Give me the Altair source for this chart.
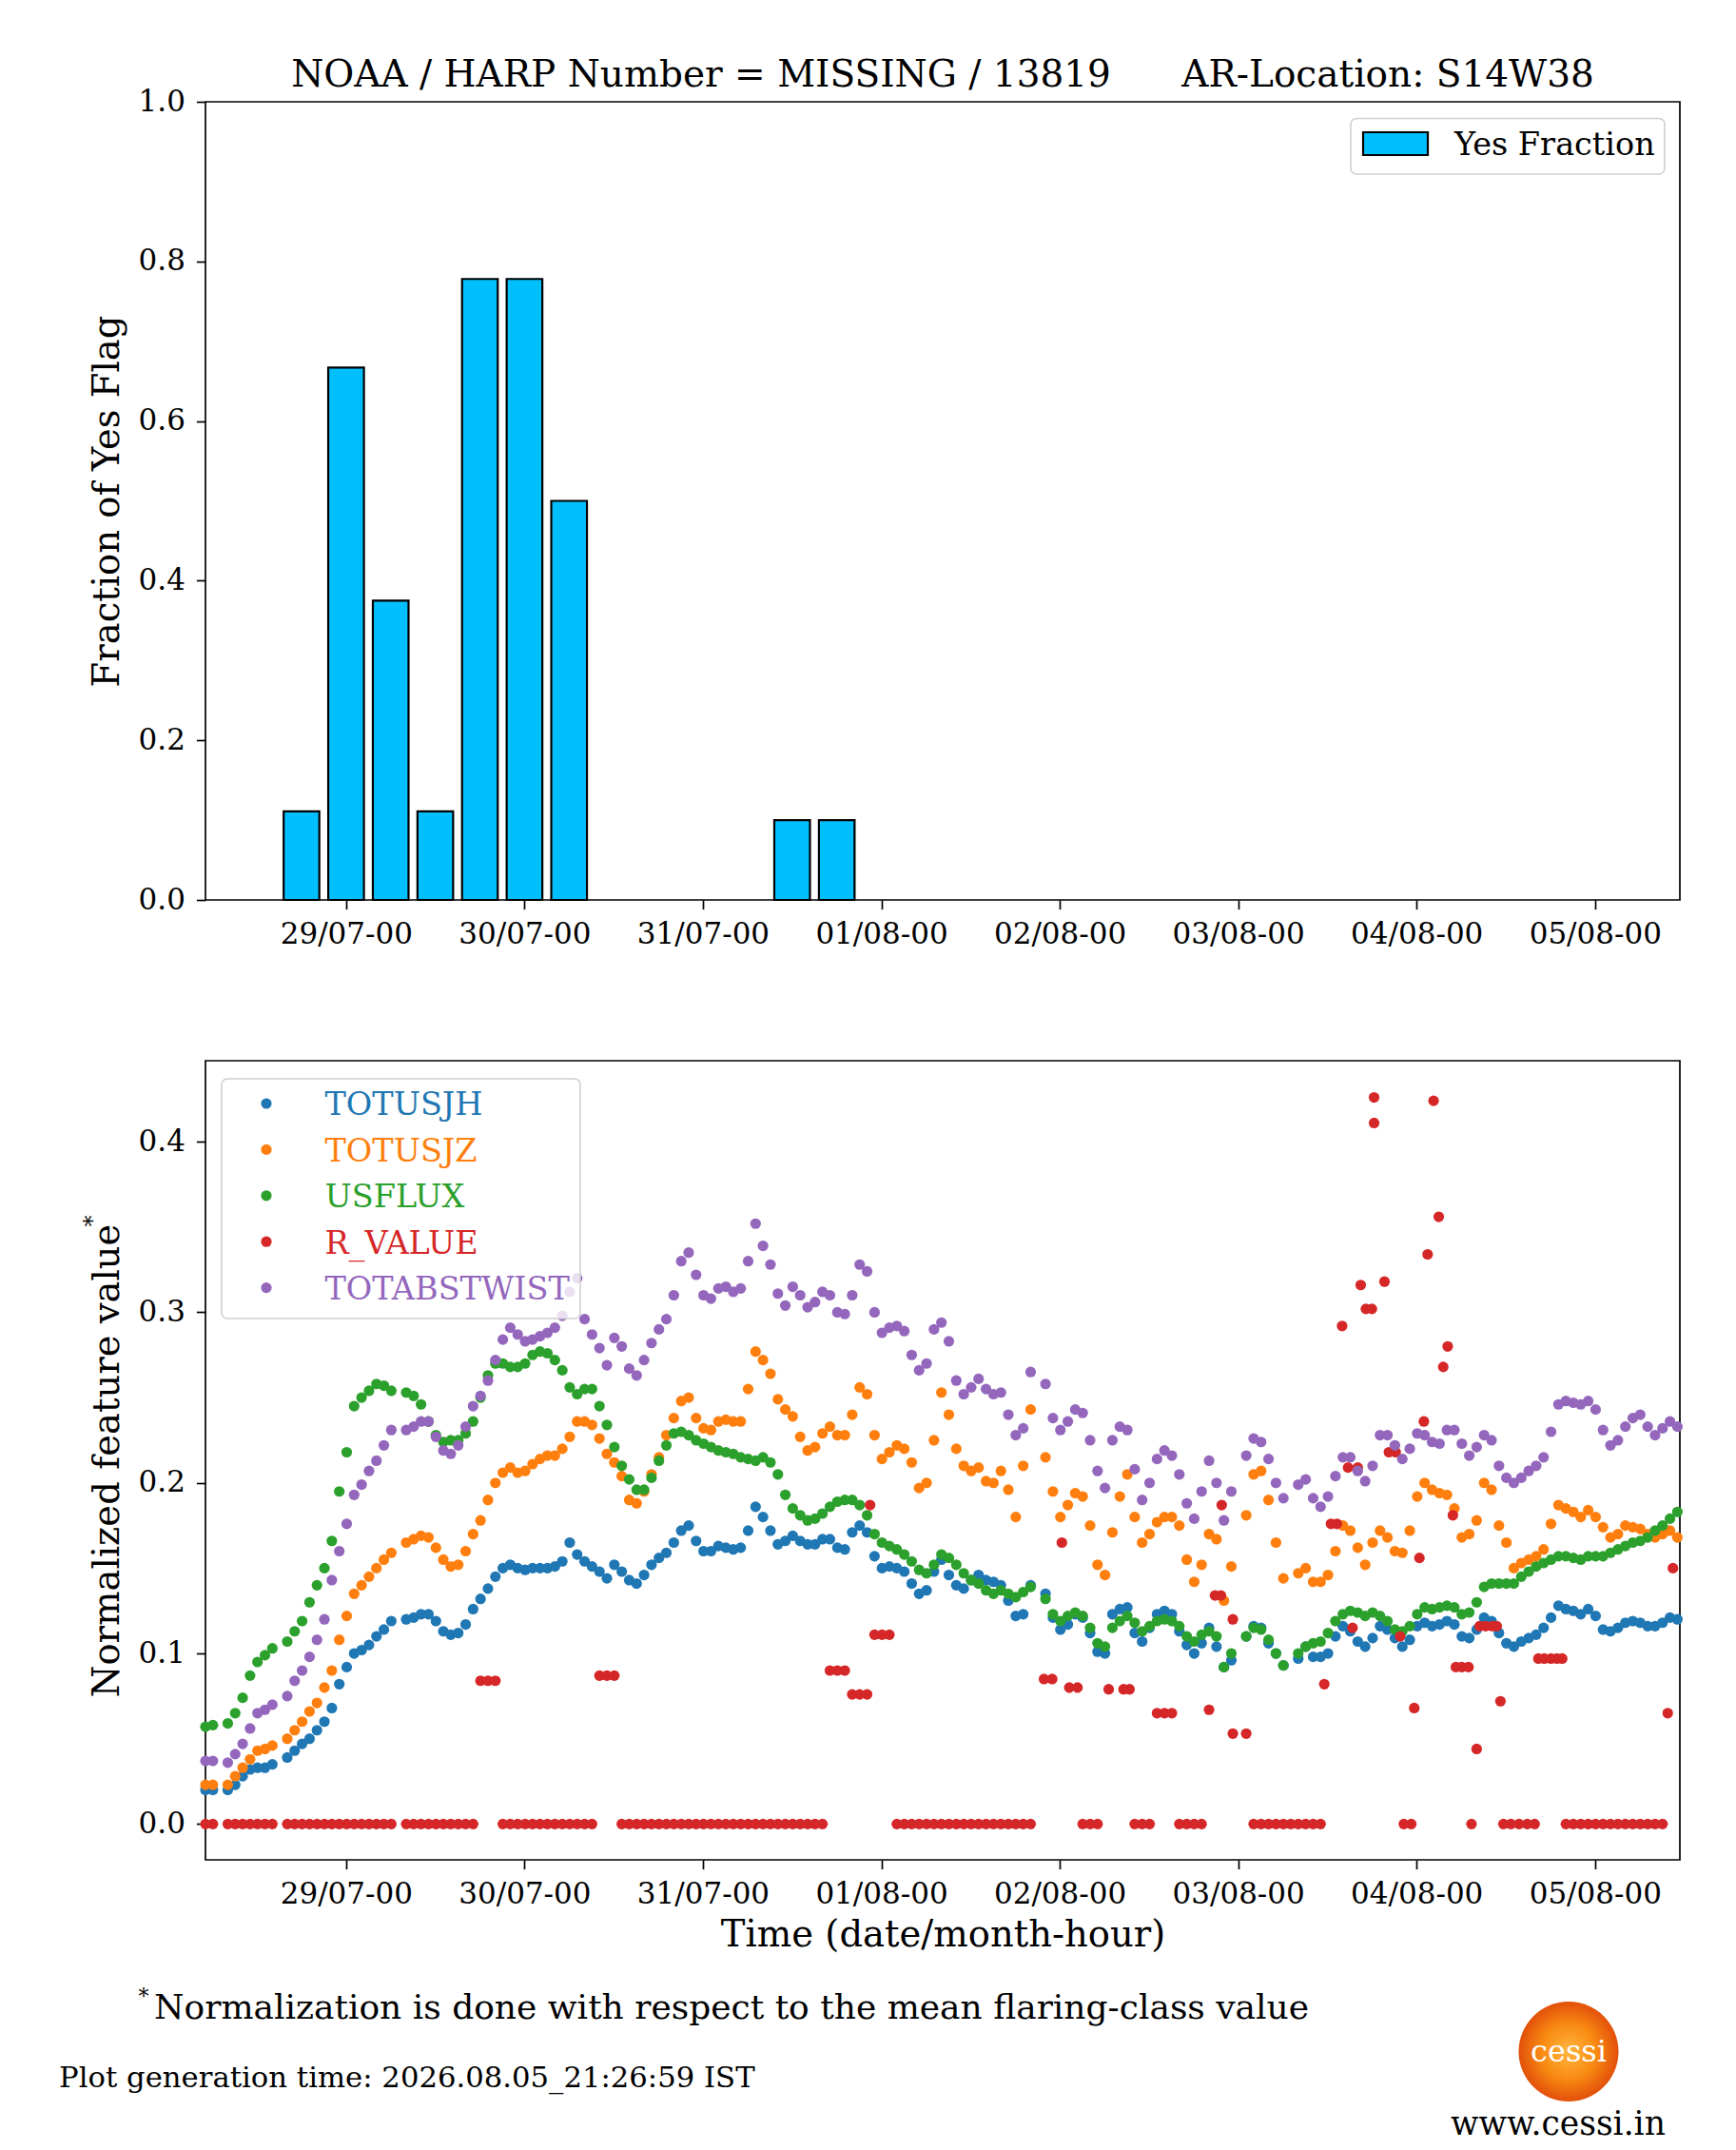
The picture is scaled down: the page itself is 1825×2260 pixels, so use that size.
import altair as alt
import pandas as pd

SERIF = "DejaVu Serif"

START = pd.Timestamp("2024-07-28 05:05")
END = pd.Timestamp("2024-08-05 11:25")
TICK_DAYS = ["2024-07-29", "2024-07-30", "2024-07-31", "2024-08-01",
             "2024-08-02", "2024-08-03", "2024-08-04", "2024-08-05"]

TITLE = "NOAA / HARP Number = MISSING / 13819" + "\u00a0" * 6 + "AR-Location: S14W38"

# top panel: fraction of "yes" flags in 6-hour bins
BAR_TIMES = ["2024-07-28 18:00", "2024-07-29 00:00", "2024-07-29 06:00",
             "2024-07-29 12:00", "2024-07-29 18:00", "2024-07-30 00:00",
             "2024-07-30 06:00", "2024-07-31 12:00", "2024-07-31 18:00"]
YES_FRACTION = [0.111, 0.667, 0.375, 0.111, 0.778, 0.778, 0.5, 0.1, 0.1]

# bottom panel: hourly samples counted from START (None = no record)
TOTUSJH = [
    0.020, 0.020, None, 0.020, 0.023, 0.028, 0.032, 0.033, 0.033, 0.035,
    None, 0.039, 0.043, 0.047, 0.050, 0.055, 0.060, 0.068, 0.082, 0.092,
    0.100, 0.102, 0.105, 0.110, 0.114, 0.119, None, 0.120, 0.121, 0.123,
    0.123, 0.119, 0.113, 0.111, 0.112, 0.117, 0.126, 0.132, 0.138, 0.145,
    0.150, 0.152, 0.150, 0.149, 0.150, 0.150, 0.150, 0.151, 0.154, 0.165,
    0.158, 0.154, 0.151, 0.148, 0.144, 0.152, 0.148, 0.143, 0.141, 0.146,
    0.152, 0.156, 0.159, 0.165, 0.172, 0.175, 0.166, 0.160, 0.160, 0.163,
    0.162, 0.161, 0.162, 0.172, 0.186, 0.180, 0.172, 0.164, 0.166, 0.169,
    0.166, 0.164, 0.164, 0.167, 0.167, 0.162, 0.161, 0.171, 0.175, 0.171,
    0.157, 0.150, 0.151, 0.150, 0.148, 0.141, 0.135, 0.137, 0.148, 0.155,
    0.146, 0.140, 0.138, 0.143, 0.146, 0.143, 0.142, 0.140, 0.131, 0.122,
    0.123, 0.140, None, 0.135, 0.121, 0.114, 0.117, 0.123, 0.121, 0.112,
    0.101, 0.100, 0.123, 0.126, 0.127, 0.112, 0.107, 0.115, 0.123, 0.125,
    0.123, 0.113, 0.105, 0.100, 0.106, 0.115, 0.104, 0.092, 0.096, None,
    0.110, 0.116, 0.115, 0.106, 0.100, 0.093, None, 0.097, 0.104, 0.098,
    0.098, 0.100, 0.110, 0.116, 0.113, 0.107, 0.104, 0.109, 0.116, 0.114,
    0.109, 0.104, 0.108, 0.116, 0.118, 0.116, 0.117, 0.119, 0.117, 0.110,
    0.109, 0.114, 0.121, 0.119, 0.112, 0.106, 0.104, 0.107, 0.109, 0.111,
    0.115, 0.121, 0.128, 0.126, 0.125, 0.123, 0.126, 0.122, 0.114, 0.113,
    0.115, 0.118, 0.119, 0.118, 0.116, 0.116, 0.118, 0.121, 0.120,
]
TOTUSJZ = [
    0.023, 0.023, None, 0.023, 0.028, 0.033, 0.038, 0.043, 0.044, 0.046,
    None, 0.050, 0.055, 0.060, 0.066, 0.071, 0.080, 0.090, 0.108, 0.122,
    0.135, 0.140, 0.145, 0.150, 0.155, 0.159, None, 0.165, 0.167, 0.169,
    0.168, 0.162, 0.155, 0.151, 0.152, 0.160, 0.170, 0.178, 0.190, 0.200,
    0.206, 0.209, 0.206, 0.207, 0.211, 0.214, 0.216, 0.216, 0.220, 0.227,
    0.236, 0.236, 0.234, 0.226, 0.217, 0.212, 0.204, 0.190, 0.188, 0.195,
    0.205, 0.215, 0.228, 0.238, 0.248, 0.250, 0.238, 0.232, 0.231, 0.236,
    0.237, 0.236, 0.236, 0.255, 0.277, 0.272, 0.264, 0.249, 0.243, 0.239,
    0.227, 0.219, 0.221, 0.229, 0.233, 0.228, 0.228, 0.240, 0.256, 0.252,
    0.228, 0.214, 0.218, 0.222, 0.220, 0.212, 0.197, 0.200, 0.225, 0.253,
    0.240, 0.220, 0.210, 0.207, 0.209, 0.201, 0.200, 0.207, 0.196, 0.180,
    0.210, 0.243, None, 0.215, 0.195, 0.180, 0.187, 0.194, 0.192, 0.175,
    0.152, 0.146, 0.171, 0.192, 0.205, 0.180, 0.165, 0.170, 0.177, 0.180,
    0.180, 0.175, 0.155, 0.142, 0.152, 0.170, 0.167, 0.131, 0.151, None,
    0.181, 0.205, 0.207, 0.190, 0.165, 0.144, None, 0.147, 0.150, 0.142,
    0.142, 0.146, 0.160, 0.175, 0.172, 0.162, 0.152, 0.165, 0.172, 0.168,
    0.160, 0.159, 0.172, 0.192, 0.200, 0.196, 0.194, 0.193, 0.185, 0.168,
    0.170, 0.178, 0.200, 0.196, 0.175, 0.165, 0.150, 0.153, 0.155, 0.157,
    0.161, 0.176, 0.187, 0.185, 0.183, 0.180, 0.184, 0.180, 0.174, 0.168,
    0.170, 0.175, 0.174, 0.173, 0.170, 0.168, 0.170, 0.172, 0.168,
]
USFLUX = [
    0.057, 0.058, None, 0.059, 0.065, 0.074, 0.087, 0.095, 0.099, 0.103,
    None, 0.107, 0.113, 0.119, 0.130, 0.140, 0.150, 0.166, 0.195, 0.218,
    0.245, 0.250, 0.254, 0.258, 0.257, 0.254, None, 0.253, 0.251, 0.246,
    0.236, 0.228, 0.224, 0.225, 0.225, 0.229, 0.236, 0.250, 0.263, 0.270,
    0.270, 0.268, 0.268, 0.270, 0.275, 0.277, 0.276, 0.272, 0.266, 0.256,
    0.252, 0.255, 0.255, 0.245, 0.234, 0.221, 0.210, 0.202, 0.196, 0.196,
    0.203, 0.213, 0.222, 0.229, 0.230, 0.228, 0.225, 0.223, 0.221, 0.219,
    0.218, 0.217, 0.215, 0.214, 0.213, 0.215, 0.212, 0.205, 0.193, 0.185,
    0.181, 0.178, 0.179, 0.182, 0.186, 0.189, 0.190, 0.190, 0.187, 0.181,
    0.170, 0.165, 0.163, 0.161, 0.158, 0.154, 0.149, 0.147, 0.152, 0.158,
    0.156, 0.152, 0.147, 0.143, 0.141, 0.137, 0.135, 0.137, 0.135, 0.133,
    0.136, 0.139, None, 0.132, 0.123, 0.119, 0.122, 0.124, 0.122, 0.115,
    0.106, 0.104, 0.115, 0.119, 0.122, 0.118, 0.113, 0.116, 0.119, 0.120,
    0.119, 0.116, 0.110, 0.107, 0.111, 0.113, 0.110, 0.092, 0.100, None,
    0.110, 0.115, 0.114, 0.108, 0.100, 0.093, None, 0.100, 0.104, 0.106,
    0.107, 0.112, 0.119, 0.123, 0.125, 0.124, 0.122, 0.124, 0.122, 0.119,
    0.114, 0.113, 0.116, 0.123, 0.127, 0.126, 0.127, 0.128, 0.127, 0.123,
    0.124, 0.130, 0.139, 0.141, 0.141, 0.141, 0.141, 0.145, 0.148, 0.151,
    0.153, 0.155, 0.157, 0.157, 0.156, 0.155, 0.157, 0.157, 0.157, 0.159,
    0.161, 0.163, 0.165, 0.166, 0.168, 0.172, 0.175, 0.179, 0.183,
]
TOTABSTWIST = [
    0.037, 0.037, None, 0.036, 0.041, 0.047, 0.056, 0.065, 0.067, 0.070,
    None, 0.075, 0.084, 0.090, 0.098, 0.108, 0.120, 0.143, 0.160, 0.176,
    0.193, 0.199, 0.207, 0.213, 0.222, 0.231, None, 0.231, 0.233, 0.236,
    0.236, 0.227, 0.219, 0.217, 0.222, 0.233, 0.245, 0.251, 0.260, 0.272,
    0.284, 0.291, 0.287, 0.283, 0.284, 0.286, 0.288, 0.291, 0.298, 0.312,
    0.320, 0.296, 0.287, 0.279, 0.269, 0.285, 0.280, 0.267, 0.263, 0.272,
    0.282, 0.290, 0.296, 0.310, 0.330, 0.335, 0.322, 0.310, 0.308, 0.314,
    0.315, 0.312, 0.314, 0.330, 0.352, 0.339, 0.328, 0.311, 0.304, 0.315,
    0.310, 0.303, 0.306, 0.312, 0.310, 0.300, 0.299, 0.310, 0.328, 0.324,
    0.300, 0.288, 0.291, 0.292, 0.289, 0.275, 0.266, 0.270, 0.290, 0.294,
    0.283, 0.260, 0.252, 0.256, 0.261, 0.255, 0.252, 0.253, 0.240, 0.228,
    0.232, 0.265, None, 0.258, 0.238, 0.231, 0.236, 0.243, 0.241, 0.225,
    0.207, 0.197, 0.225, 0.233, 0.231, 0.208, 0.190, 0.200, 0.214, 0.219,
    0.216, 0.205, 0.188, 0.179, 0.195, 0.213, 0.200, 0.178, 0.195, None,
    0.216, 0.226, 0.224, 0.214, 0.200, 0.191, None, 0.199, 0.202, 0.191,
    0.186, 0.192, 0.204, 0.215, 0.215, 0.207, 0.201, 0.210, 0.228, 0.228,
    0.222, 0.214, 0.220, 0.229, 0.228, 0.224, 0.223, 0.231, 0.231, 0.223,
    0.216, 0.221, 0.228, 0.225, 0.210, 0.203, 0.200, 0.203, 0.207, 0.210,
    0.215, 0.230, 0.246, 0.248, 0.247, 0.246, 0.248, 0.243, 0.231, 0.222,
    0.225, 0.233, 0.238, 0.240, 0.233, 0.228, 0.232, 0.236, 0.233,
]

# R_VALUE is irregular: hours after START and the value read at each
RV_HOURS = [
    0, 1, 3, 4, 5, 6, 7, 8, 9, 11, 12, 13, 14, 15, 16, 17, 18, 19, 20, 21,
    22, 23, 24, 25, 27, 28, 29, 30, 31, 32, 33, 34, 35, 36, 37, 38, 39, 40, 41, 42,
    43, 44, 45, 46, 47, 48, 49, 50, 51, 52, 53, 54, 55, 56, 57, 58, 59, 60, 61, 62,
    63, 64, 65, 66, 67, 68, 69, 70, 71, 72, 73, 74, 75, 76, 77, 78, 79, 80, 81, 82,
    83, 84, 85, 86, 87, 88, 89, 89.4, 90, 91, 92, 93, 94, 95, 96, 97, 98, 99, 100, 101,
    102, 103, 104, 105, 106, 107, 108, 109, 110, 111, 112.8, 113.9, 115.2, 116.2, 117.3,
    118, 119, 120, 121.5, 123.5,
    124.3, 125, 126, 127, 128, 129, 130, 131, 132, 133, 134, 135, 135.8, 136.6, 136.7,
    138.2, 138.2, 140, 141, 142,
    143, 144, 145, 146, 147, 148, 149, 150, 150.5, 151.4, 152.2, 152.9, 153.7, 154.3,
    155.0, 155.4, 156.1, 156.9, 157.2, 157.2,
    158.6, 159.2, 160.1, 160.7, 161.2, 162.2, 162.6, 163.3, 163.9, 164.4, 165.2, 165.9,
    166.5, 167.1, 167.8, 168.2, 169.0, 169.9, 170.3, 171.0,
    171.4, 172.2, 173.1, 173.7, 174.2, 174.6, 175.6, 176.7, 177.8, 178.8, 179.3, 180.1,
    181.0, 181.8, 182.5, 183, 184, 185, 186, 187,
    188, 189, 190, 191, 192, 193, 194, 195, 196, 196.7, 197.4,
]
RV_VALUES = [
    0, 0, 0, 0, 0, 0, 0, 0, 0, 0, 0, 0, 0, 0, 0, 0, 0, 0, 0, 0,
    0, 0, 0, 0, 0, 0, 0, 0, 0, 0, 0, 0, 0, 0, 0.084, 0.084, 0.084, 0, 0, 0,
    0, 0, 0, 0, 0, 0, 0, 0, 0, 0, 0.087, 0.087, 0.087, 0, 0, 0, 0, 0, 0, 0,
    0, 0, 0, 0, 0, 0, 0, 0, 0, 0, 0, 0, 0, 0, 0, 0, 0, 0, 0, 0,
    0, 0.090, 0.090, 0.090, 0.076, 0.076, 0.076, 0.187, 0.111, 0.111, 0.111,
    0, 0, 0, 0, 0, 0, 0, 0, 0,
    0, 0, 0, 0, 0, 0, 0, 0, 0, 0, 0.085, 0.085, 0.165, 0.080, 0.080,
    0, 0, 0, 0.079, 0.079,
    0.079, 0, 0, 0, 0.065, 0.065, 0.065, 0, 0, 0, 0, 0.067, 0.134, 0.134, 0.187,
    0.120, 0.053, 0.053, 0, 0,
    0, 0, 0, 0, 0, 0, 0, 0, 0.082, 0.176, 0.176, 0.292, 0.209, 0.115,
    0.209, 0.316, 0.302, 0.302, 0.426, 0.411,
    0.318, 0.218, 0.218, 0.110, 0, 0, 0.068, 0.156, 0.236, 0.334, 0.424, 0.356,
    0.268, 0.280, 0.181, 0.092, 0.092, 0.092, 0, 0.044,
    0.116, 0.116, 0.116, 0.116, 0.072, 0, 0, 0, 0, 0, 0.097, 0.097,
    0.097, 0.097, 0.097, 0, 0, 0, 0, 0,
    0, 0, 0, 0, 0, 0, 0, 0, 0, 0.065, 0.150,
]

SERIES = ["TOTUSJH", "TOTUSJZ", "USFLUX", "R_VALUE", "TOTABSTWIST"]
COLORS = ["#1f77b4", "#ff7f0e", "#2ca02c", "#d62728", "#9467bd"]

FOOTNOTE = "Normalization is done with respect to the mean flaring-class value"
GENERATED = "Plot generation time: 2026.08.05_21:26:59 IST"

W = 1550
H_TOP = 839
H_BOT = 840
DOT = 125


def dt(ts):
    ts = pd.Timestamp(ts)
    return alt.DateTime(year=ts.year, month=ts.month, date=ts.day,
                        hours=ts.hour, minutes=ts.minute)


def x_axis(title=None):
    return alt.Axis(values=[dt(d) for d in TICK_DAYS], format="%d/%m-%H", title=title,
                    titleBaseline="alphabetic", titleY=90)


X_SCALE = alt.Scale(domain=[dt(START), dt(END)])


def one(**cols):
    return pd.DataFrame({k: [v] for k, v in cols.items()})


def label(text, x, y, size, color="black", align="left", baseline="alphabetic", angle=0):
    return alt.Chart(one(text=text)).mark_text(
        font=SERIF, fontSize=size, color=color, align=align, baseline=baseline, angle=angle
    ).encode(text="text:N", x=alt.value(x), y=alt.value(y))


def box(x, x2, y, y2):
    return alt.Chart(one(a=0)).mark_rect(
        fill="white", fillOpacity=0.8, stroke="#d0d0d0", strokeWidth=1.6, cornerRadius=6
    ).encode(x=alt.value(x), x2=alt.value(x2), y=alt.value(y), y2=alt.value(y2))


def series_frame(hours, values):
    df = pd.DataFrame({"hour": hours, "value": values}).dropna()
    df["time"] = START + pd.to_timedelta(df["hour"], unit="h")
    return df


def top_chart():
    df = pd.DataFrame({"time": pd.to_datetime(BAR_TIMES), "fraction": YES_FRACTION})
    df["start"] = df["time"] - pd.Timedelta(hours=2.4)
    df["end"] = df["time"] + pd.Timedelta(hours=2.4)

    bars = alt.Chart(df).mark_bar(color="#00bfff", stroke="black", strokeWidth=2.2).encode(
        x=alt.X("start:T", scale=X_SCALE, axis=x_axis()),
        x2="end:T",
        y=alt.Y("fraction:Q", scale=alt.Scale(domain=[0, 1], nice=False),
                axis=alt.Axis(values=[0, 0.2, 0.4, 0.6, 0.8, 1.0], format=".1f",
                              title="Fraction of Yes Flag", titleX=-92,
                              titleBaseline="alphabetic")),
        y2=alt.datum(0),
    )
    patch = alt.Chart(one(a=0)).mark_rect(color="#00bfff", stroke="black", strokeWidth=2.2).encode(
        x=alt.value(1217), x2=alt.value(1285), y=alt.value(32), y2=alt.value(56))
    # invisible corner mark pins the page origin
    anchor = alt.Chart(one(a=0)).mark_point(opacity=0, size=1).encode(
        x=alt.value(-206.5), y=alt.value(-97))

    return alt.layer(
        bars,
        box(1204, 1534, 17.5, 76),
        patch,
        label("Yes Fraction", 1313, 56, 33.5),
        label(TITLE, W / 2, -16, 39, align="center"),
        anchor,
    ).properties(width=W, height=H_TOP)


def bottom_chart():
    y_scale = alt.Scale(domain=[-0.021, 0.4475], nice=False, zero=False)
    y_axis = alt.Axis(values=[0, 0.1, 0.2, 0.3, 0.4], format=".1f",
                      title="Normalized feature value", titleX=-92,
                      titleBaseline="alphabetic")
    hourly = [TOTUSJH, TOTUSJZ, USFLUX, None, TOTABSTWIST]

    layers = []
    for name, color, values in zip(SERIES, COLORS, hourly):
        if values is None:
            df = series_frame(RV_HOURS, RV_VALUES)
        else:
            df = series_frame(list(range(len(values))), values)
        layers.append(alt.Chart(df).mark_circle(size=DOT, color=color, opacity=1).encode(
            x=alt.X("time:T", scale=X_SCALE, axis=x_axis("Time (date/month-hour)")),
            y=alt.Y("value:Q", scale=y_scale, axis=y_axis),
        ))

    layers.append(box(17, 394, 19, 271))
    for i, (name, color) in enumerate(zip(SERIES, COLORS)):
        row = 45 + 48.4 * i
        layers.append(alt.Chart(one(a=0)).mark_circle(size=DOT, color=color, opacity=1).encode(
            x=alt.value(64), y=alt.value(row)))
        layers.append(label(name, 125.5, row + 12.3, 33.5, color=color))

    layers += [
        label("*", -118.5, 168.5, 24, align="center", baseline="middle", angle=270),
        label("*", -65, 983.5, 22, align="center", baseline="middle"),
        label(FOOTNOTE, -54, 1007, 36, align="left"),
        label(GENERATED, -154, 1079, 30.7, align="left"),
        alt.Chart(one(a=0)).mark_point(
            filled=True, shape="circle", size=105 * 105, opacity=1,
            fill=alt.RadialGradient(gradient="radial", stops=[
                alt.GradientStop(offset=0, color="#ffb640"),
                alt.GradientStop(offset=0.55, color="#f88a12"),
                alt.GradientStop(offset=1, color="#e2500a"),
            ]),
        ).encode(x=alt.value(1433), y=alt.value(1041.5)),
        label("cessi", 1433, 1052, 32, color="white", align="center"),
        label("www.cessi.in", 1309, 1129, 34.5, align="left"),
    ]
    return alt.layer(*layers).properties(width=W, height=H_BOT)


assert len(RV_HOURS) == len(RV_VALUES)

chart = alt.vconcat(top_chart(), bottom_chart(), spacing=169, bounds="flush").properties(
    padding=0
).configure_axis(
    labelFont=SERIF, titleFont=SERIF, labelFontSize=31, titleFontSize=38.5,
    labelColor="black", titleColor="black", titleFontWeight="normal",
    tickColor="black", tickSize=9.6, tickWidth=1.7, labelPadding=12,
    labelFlush=False, domain=False, grid=False,
).configure_view(stroke="black", strokeWidth=1.7)

chart.save("out.html", embed_options={"renderer": "svg", "actions": False})
